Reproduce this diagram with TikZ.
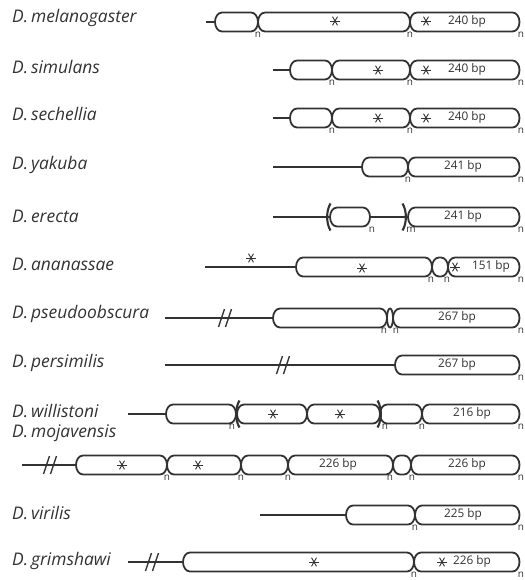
\documentclass[tikz,border=0pt]{standalone}
\usepackage{fontspec}
\setmainfont{Open Sans}
\definecolor{ink}{RGB}{50,50,50}
\tikzset{
 segline/.style={draw=ink, line width=1.8pt, line join=round},
 stem/.style={draw=ink, line width=1.8pt},
 lab/.style={anchor=west, font=\fontsize{17.4}{19}\selectfont\itshape, text=ink, inner sep=0pt},
 bp/.style={font=\fontsize{11.8}{13}\selectfont, text=ink, inner sep=0pt},
 nlab/.style={font=\fontsize{10}{10}\selectfont, text=ink, inner sep=0pt},
 brkline/.style={draw=ink, line width=1.4pt},
 astline/.style={draw=ink, line width=0.9pt},
 parline/.style={draw=ink, line width=2.1pt},
}
\newcounter{nn}
% segment: [rx]{x1}{x2}{Y}
\newcommand\seg[4][7]{\draw[segline] ({#3-#1},{9.5-#4}) arc[start angle=90,end angle=-90,x radius=#1,y radius=9.5] -- ({#2+#1},{-9.5-#4}) arc[start angle=270,end angle=90,x radius=#1,y radius=9.5] -- cycle;}
\newcommand\stemline[3]{\draw[stem] (#1,-#3) -- (#2,-#3);}
\newcommand\brk[2]{\foreach \d in {-3.5,3.5}{\draw[brkline] ({#1+\d-3},{-#2-9}) -- ({#1+\d+3},{-#2+9});}}
\newcommand\astr[2]{\foreach \a in {0,60,120}{\draw[astline] ({#1+5*cos(\a)},{-#2+5*sin(\a)}) -- ({#1-5*cos(\a)},{-#2-5*sin(\a)});}}
\newcommand\lpar[2]{\draw[parline] ({#1+2.5},{-#2+13.5}) .. controls ({#1-2},{-#2+6}) and ({#1-2},{-#2-6}) .. ({#1+2.5},{-#2-13.5});}
\newcommand\rpar[2]{\draw[parline] ({#1-2.5},{-#2+13.5}) .. controls ({#1+2},{-#2+6}) and ({#1+2},{-#2-6}) .. ({#1-2.5},{-#2-13.5});}
\newcommand\nl[3][n]{\stepcounter{nn}\node[nlab] (nl\arabic{nn}) at (#2,{-#3-12.5}) {#1};}
\newcommand\bpl[3]{\stepcounter{nn}\node[bp] (bp\arabic{nn}) at (#1,-#2) {#3};}
\begin{document}
\begin{tikzpicture}[x=1pt,y=1pt]
\useasboundingbox (0,0) rectangle (524,-580);
% labels
\node[lab] (l1) at (12,-18) {D.\,melanogaster};
\node[lab] (l2) at (12,-67) {D.\,simulans};
\node[lab] (l3) at (12,-114) {D.\,sechellia};
\node[lab] (l4) at (12,-165) {D.\,yakuba};
\node[lab] (l5) at (12,-216) {D.\,erecta};
\node[lab] (l6) at (12,-264) {D.\,ananassae};
\node[lab] (l7) at (12,-314) {D.\,pseudoobscura};
\node[lab] (l8) at (12,-363) {D.\,persimilis};
\node[lab] (l9) at (12,-411) {D.\,willistoni};
\node[lab] (l10) at (12,-433) {D.\,mojavensis};
\node[lab] (l11) at (12,-513) {D.\,virilis};
\node[lab] (l12) at (12,-561) {D.\,grimshawi};
% row 1
\stemline{206}{215}{22}
\seg{215}{258}{22}\seg{258}{410}{22}\seg{410}{519.5}{22}
\astr{335}{21}\astr{426}{21}\bpl{467}{21}{240 bp}
\nl{258}{22}\nl{410}{22}\nl{521}{22}
% row 2
\stemline{273}{290}{70}
\seg{290}{332}{70}\seg{332}{410}{70}\seg{410}{519.5}{70}
\astr{378}{70}\astr{426}{70}\bpl{467}{69}{240 bp}
\nl{332}{70}\nl{410}{70}\nl{521}{70}
% row 3
\stemline{273}{290}{118}
\seg{290}{332}{118}\seg{332}{410}{118}\seg{410}{519.5}{118}
\astr{378}{118}\astr{426}{118}\bpl{467}{117}{240 bp}
\nl{332}{118}\nl{410}{118}\nl{521}{118}
% row 4
\stemline{273}{362}{167}
\seg{362}{408}{167}\seg{408}{519.5}{167}
\bpl{463}{166}{241 bp}
\nl{408}{167}\nl{521}{167}
% row 5
\stemline{273}{330}{217}
\lpar{328}{217}
\seg{330}{370}{217}
\stemline{370}{405}{217}
\rpar{405}{217}
\seg{408}{519.5}{217}
\bpl{463}{216}{241 bp}
\nl{372}{217}\nl[m]{411}{217}\nl{521}{217}
% row 6
\stemline{205}{296}{267}
\astr{251}{258}
\seg{296}{432}{267}\seg{432}{448}{267}\seg{448}{519.5}{267}
\astr{362}{268}\astr{455}{267}\bpl{491}{266}{151 bp}
\nl{431}{267}\nl{447}{267}\nl{521}{267}
% row 7
\stemline{165}{273}{318}
\brk{225}{318}
\seg{273}{387}{318}\seg[3]{387}{393}{318}\seg{393}{519.5}{318}
\bpl{457}{317}{267 bp}
\nl{384}{318}\nl{396}{318}\nl{521}{318}
% row 8
\stemline{165}{395}{365}
\brk{283}{365}
\seg{395}{519.5}{365}
\bpl{457}{364}{267 bp}
\nl{521}{365}
% row 9
\stemline{128}{166}{414}
\seg{166}{236}{414}
\lpar{237}{414}
\seg{237}{307}{414}\seg{307}{380}{414}
\rpar{380}{414}
\seg{380}{422}{414}\seg{422}{519.5}{414}
\astr{273}{414}\astr{340}{414}\bpl{472}{413}{216 bp}
\nl{232}{414}\nl{385}{414}\nl{422}{414}\nl{521}{414}
% row 10
\stemline{22}{76}{465}
\brk{50}{465}
\seg{76}{167}{465}\seg{167}{241}{465}\seg{241}{288}{465}\seg{288}{393}{465}\seg{393}{411}{465}\seg{411}{519.5}{465}
\astr{122}{465}\astr{198}{465}\bpl{338}{464}{226 bp}\bpl{467}{464}{226 bp}
\nl{167}{465}\nl{241}{465}\nl{288}{465}\nl{390}{465}\nl{412}{465}\nl{521}{465}
% row 11
\stemline{260}{346}{515}
\seg{346}{415}{515}\seg{415}{519.5}{515}
\bpl{463}{514}{225 bp}
\nl{415}{515}\nl{521}{515}
% row 12
\stemline{128}{183}{562}
\brk{152}{562}
\seg{183}{414}{562}\seg{414}{519.5}{562}
\astr{314}{562}\astr{442}{562}\bpl{472}{561}{226 bp}
\nl{414}{562}\nl{521}{562}
\end{tikzpicture}
\end{document}
